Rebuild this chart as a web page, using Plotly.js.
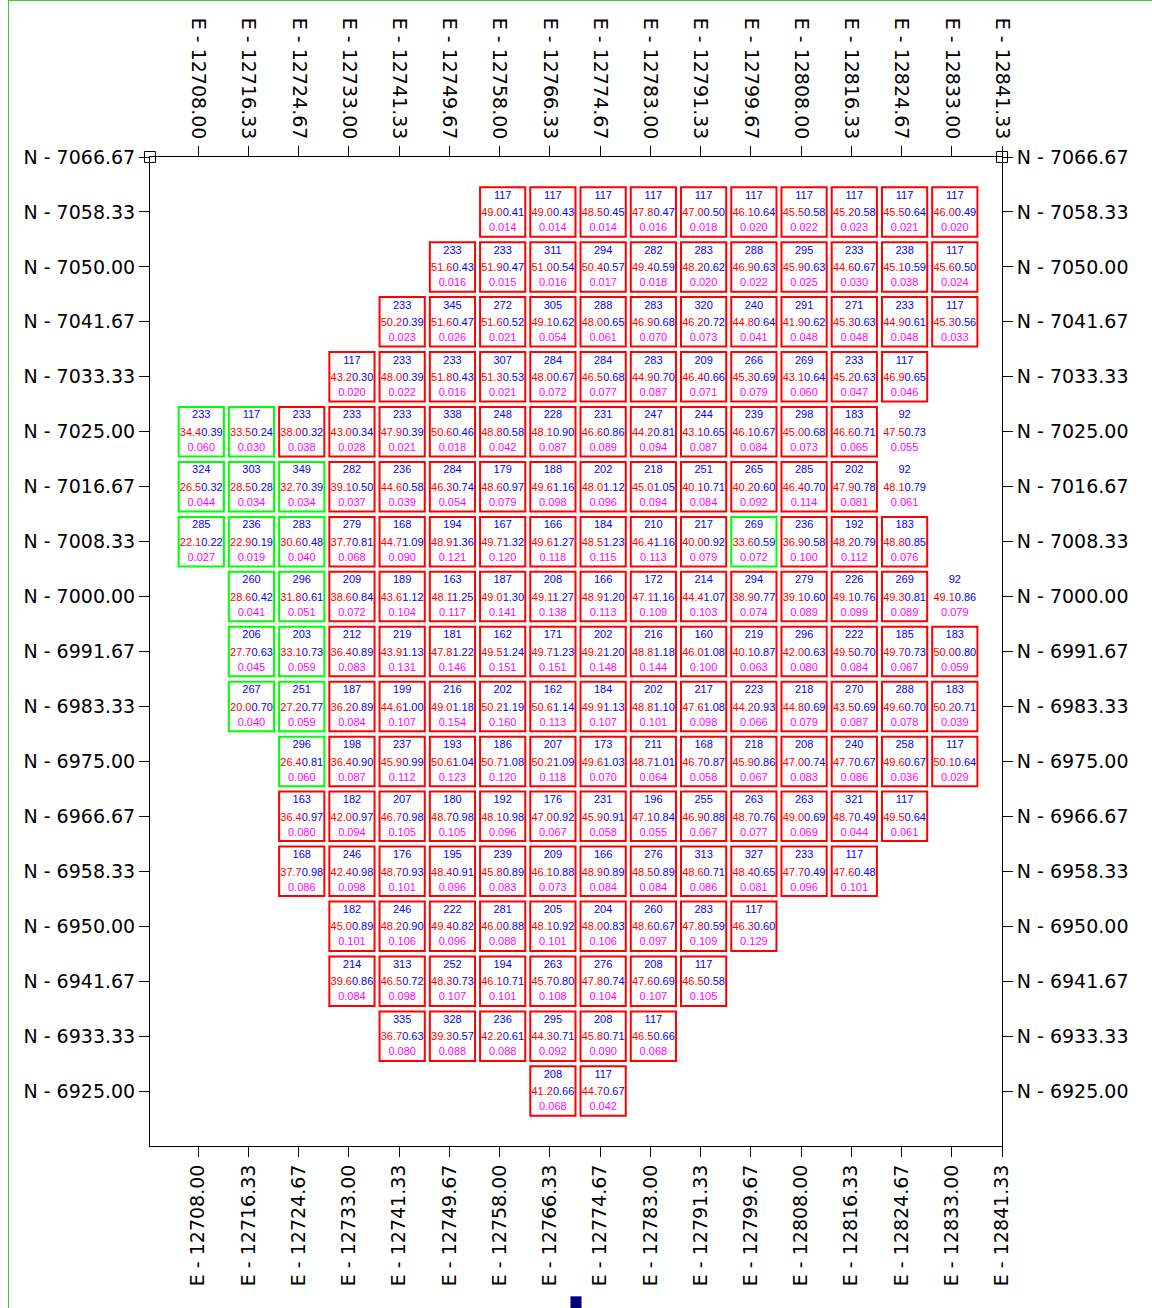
<!DOCTYPE html>
<html><head><meta charset="utf-8">
<script src="https://cdn.plot.ly/plotly-3.0.1.min.js"></script>
<style>
html,body{margin:0;padding:0;background:#fff;}
#wrap{position:relative;width:1152px;height:1308px;overflow:hidden;}
#frame{position:absolute;left:8px;top:0;width:1144px;height:1308px;border-left:1px solid #3ccf3c;border-top:1px solid #3ccf3c;box-sizing:border-box;pointer-events:none;}
</style>
</head><body>
<div id="wrap"><div id="chart"></div><div id="frame"></div></div>
<script>
// Column (easting) and row (northing) positions
const eastTicks = [12708.00, 12716.33, 12724.67, 12733.00, 12741.33, 12749.67, 12758.00, 12766.33,
  12774.67, 12783.00, 12791.33, 12799.67, 12808.00, 12816.33, 12824.67, 12833.00, 12841.33];
const northTicks = [7066.67, 7058.33, 7050.00, 7041.67, 7033.33, 7025.00, 7016.67, 7008.33, 7000.00,
  6991.67, 6983.33, 6975.00, 6966.67, 6958.33, 6950.00, 6941.67, 6933.33, 6925.00];

// block rows (top to bottom): northing, first column index
const rowNorth = [7058.33, 7050.00, 7041.67, 7033.33, 7025.00, 7016.67, 7008.33, 7000.00, 6991.67,
  6983.33, 6975.00, 6966.67, 6958.33, 6950.00, 6941.67, 6933.33, 6925.00];
const rowStartCol = [6, 5, 4, 3, 0, 0, 0, 1, 1, 1, 2, 2, 2, 3, 3, 4, 7];

// top value (blue)
const tonnage = [
  [117,117,117,117,117,117,117,117,117,117],
  [233,233,311,294,282,283,288,295,233,238,117],
  [233,345,272,305,288,283,320,240,291,271,233,117],
  [117,233,233,307,284,284,283,209,266,269,233,117],
  [233,117,233,233,233,338,248,228,231,247,244,239,298,183,92],
  [324,303,349,282,236,284,179,188,202,218,251,265,285,202,92],
  [285,236,283,279,168,194,167,166,184,210,217,269,236,192,183],
  [260,296,209,189,163,187,208,166,172,214,294,279,226,269,92],
  [206,203,212,219,181,162,171,202,216,160,219,296,222,185,183],
  [267,251,187,199,216,202,162,184,202,217,223,218,270,288,183],
  [296,198,237,193,186,207,173,211,168,218,208,240,258,117],
  [163,182,207,180,192,176,231,196,255,263,263,321,117],
  [168,246,176,195,239,209,166,276,313,327,233,117],
  [182,246,222,281,205,204,260,283,117],
  [214,313,252,194,263,276,208,117],
  [335,328,236,295,208,117],
  [208,117]
];
// middle value, left part (red)
const grade = [
  [49.0,49.0,48.5,47.8,47.0,46.1,45.5,45.2,45.5,46.0],
  [51.6,51.9,51.0,50.4,49.4,48.2,46.9,45.9,44.6,45.1,45.6],
  [50.2,51.6,51.6,49.1,48.0,46.9,46.2,44.8,41.9,45.3,44.9,45.3],
  [43.2,48.0,51.8,51.3,48.0,46.5,44.9,46.4,45.3,43.1,45.2,46.9],
  [34.4,33.5,38.0,43.0,47.9,50.6,48.8,48.1,46.6,44.2,43.1,46.1,45.0,46.6,47.5],
  [26.5,28.5,32.7,39.1,44.6,46.3,48.6,49.6,48.0,45.0,40.1,40.2,46.4,47.9,48.1],
  [22.1,22.9,30.6,37.7,44.7,48.9,49.7,49.6,48.5,46.4,40.0,33.6,36.9,48.2,48.8],
  [28.6,31.8,38.6,43.6,48.1,49.0,49.1,48.9,47.1,44.4,38.9,39.1,49.1,49.3,49.1],
  [27.7,33.1,36.4,43.9,47.8,49.5,49.7,49.2,48.8,46.0,40.1,42.0,49.5,49.7,50.0],
  [20.0,27.2,36.2,44.6,49.0,50.2,50.6,49.9,48.8,47.6,44.2,44.8,43.5,49.6,50.2],
  [26.4,36.4,45.9,50.6,50.7,50.2,49.6,48.7,46.7,45.9,47.0,47.7,49.6,50.1],
  [36.4,42.0,46.7,48.7,48.1,47.0,45.9,47.1,46.9,48.7,49.0,48.7,49.5],
  [37.7,42.4,48.7,48.4,45.8,46.1,48.9,48.5,48.6,48.4,47.7,47.6],
  [45.0,48.2,49.4,46.0,48.1,48.0,48.6,47.8,46.3],
  [39.6,46.5,48.3,46.1,45.7,47.8,47.6,46.5],
  [36.7,39.3,42.2,44.3,45.8,46.5],
  [41.2,44.7]
];
// middle value, right part (blue)
const thickness = [
  [0.41,0.43,0.45,0.47,0.50,0.64,0.58,0.58,0.64,0.49],
  [0.43,0.47,0.54,0.57,0.59,0.62,0.63,0.63,0.67,0.59,0.50],
  [0.39,0.47,0.52,0.62,0.65,0.68,0.72,0.64,0.62,0.63,0.61,0.56],
  [0.30,0.39,0.43,0.53,0.67,0.68,0.70,0.66,0.69,0.64,0.63,0.65],
  [0.39,0.24,0.32,0.34,0.39,0.46,0.58,0.90,0.86,0.81,0.65,0.67,0.68,0.71,0.73],
  [0.32,0.28,0.39,0.50,0.58,0.74,0.97,1.16,1.12,1.05,0.71,0.60,0.70,0.78,0.79],
  [0.22,0.19,0.48,0.81,1.09,1.36,1.32,1.27,1.23,1.16,0.92,0.59,0.58,0.79,0.85],
  [0.42,0.61,0.84,1.12,1.25,1.30,1.27,1.20,1.16,1.07,0.77,0.60,0.76,0.81,0.86],
  [0.63,0.73,0.89,1.13,1.22,1.24,1.23,1.20,1.18,1.08,0.87,0.63,0.70,0.73,0.80],
  [0.70,0.77,0.89,1.00,1.18,1.19,1.14,1.13,1.10,1.08,0.93,0.69,0.69,0.70,0.71],
  [0.81,0.90,0.99,1.04,1.08,1.09,1.03,1.01,0.87,0.86,0.74,0.67,0.67,0.64],
  [0.97,0.97,0.98,0.98,0.98,0.92,0.91,0.84,0.88,0.76,0.69,0.49,0.64],
  [0.98,0.98,0.93,0.91,0.89,0.88,0.89,0.89,0.71,0.65,0.49,0.48],
  [0.89,0.90,0.82,0.88,0.92,0.83,0.67,0.59,0.60],
  [0.86,0.72,0.73,0.71,0.80,0.74,0.69,0.58],
  [0.63,0.57,0.61,0.71,0.71,0.66],
  [0.66,0.67]
];
// bottom value (magenta)
const metal = [
  [0.014,0.014,0.014,0.016,0.018,0.020,0.022,0.023,0.021,0.020],
  [0.016,0.015,0.016,0.017,0.018,0.020,0.022,0.025,0.030,0.038,0.024],
  [0.023,0.026,0.021,0.054,0.061,0.070,0.073,0.041,0.048,0.048,0.048,0.033],
  [0.020,0.022,0.016,0.021,0.072,0.077,0.087,0.071,0.079,0.060,0.047,0.046],
  [0.060,0.030,0.038,0.028,0.021,0.018,0.042,0.087,0.089,0.094,0.087,0.084,0.073,0.065,0.055],
  [0.044,0.034,0.034,0.037,0.039,0.054,0.079,0.098,0.096,0.094,0.084,0.092,0.114,0.081,0.061],
  [0.027,0.019,0.040,0.068,0.090,0.121,0.120,0.118,0.115,0.113,0.079,0.072,0.100,0.112,0.076],
  [0.041,0.051,0.072,0.104,0.117,0.141,0.138,0.113,0.109,0.103,0.074,0.089,0.099,0.089,0.079],
  [0.045,0.059,0.083,0.131,0.146,0.151,0.151,0.148,0.144,0.100,0.063,0.080,0.084,0.067,0.059],
  [0.040,0.059,0.084,0.107,0.154,0.160,0.113,0.107,0.101,0.098,0.066,0.079,0.087,0.078,0.039],
  [0.060,0.087,0.112,0.123,0.120,0.118,0.070,0.064,0.058,0.067,0.083,0.086,0.036,0.029],
  [0.080,0.094,0.105,0.105,0.096,0.067,0.058,0.055,0.067,0.077,0.069,0.044,0.061],
  [0.086,0.098,0.101,0.096,0.083,0.073,0.084,0.084,0.086,0.081,0.096,0.101],
  [0.101,0.106,0.096,0.088,0.101,0.106,0.097,0.109,0.129],
  [0.084,0.098,0.107,0.101,0.108,0.104,0.107,0.105],
  [0.080,0.088,0.088,0.092,0.090,0.068],
  [0.068,0.042]
];
// block outline: R = red, G = green, N = none
const outline = [
  "RRRRRRRRRR",
  "RRRRRRRRRRR",
  "RRRRRRRRRRRR",
  "RRRRRRRRRRRR",
  "GGRRRRRRRRRRRRN",
  "GGGRRRRRRRRRRRN",
  "GGGRRRRRRRRGRRR",
  "GGRRRRRRRRRRRRN",
  "GGRRRRRRRRRRRRR",
  "GGRRRRRRRRRRRRR",
  "GRRRRRRRRRRRRR",
  "RRRRRRRRRRRRR",
  "RRRRRRRRRRRR",
  "RRRRRRRRR",
  "RRRRRRRR",
  "RRRRRR",
  "RR"
];

// ---- styling constants ----
const HALF = 3.75;              // block half size (axis units)
const DX = 0.5;                 // blocks sit slightly right of the tick
const PXY = 150 / 989;          // y units per pixel
const RED = '#ff0000', BLUE = '#0000ff', MAG = '#ff00ff', GREEN = '#00ff00';
const txtFont = {family: 'Liberation Sans, Arial, sans-serif', size: 11};

const shapes = [];
const topX = [], topY = [], topT = [];
const midX = [], midY = [], midT = [];
const botX = [], botY = [], botT = [];

rowNorth.forEach((n, r) => {
  tonnage[r].forEach((t, k) => {
    const e = eastTicks[rowStartCol[r] + k] + DX;
    const o = outline[r][k];
    if (o !== 'N') {
      shapes.push({type: 'rect', xref: 'x', yref: 'y', layer: 'above',
        x0: e - HALF, x1: e + HALF, y0: n - HALF, y1: n + HALF,
        line: {color: o === 'G' ? GREEN : RED, width: 2}, fillcolor: 'rgba(0,0,0,0)'});
    }
    topX.push(e); topY.push(n + 16 * PXY); topT.push(String(t));
    midX.push(e); midY.push(n - 1.5 * PXY);
    midT.push('<span style="color:' + RED + '">' + grade[r][k].toFixed(1) + '</span>' + thickness[r][k].toFixed(2));
    botX.push(e); botY.push(n - 16.5 * PXY); botT.push(metal[r][k].toFixed(3));
  });
});

// small navy marker below the plot
shapes.push({type: 'rect', xref: 'paper', yref: 'paper', x0: 0.4935, x1: 0.5065, y0: -0.1645, y1: -0.152,
  fillcolor: '#000080', line: {width: 0}});

const textTrace = (x, y, t, color) => ({
  type: 'scatter', mode: 'text', x: x, y: y, text: t, textposition: 'middle center',
  textfont: Object.assign({color: color}, txtFont), hoverinfo: 'skip', cliponaxis: false, showlegend: false
});

const xRange = [12700.00, 12841.33];
const yRange = [6916.67, 7066.67];
const tickFont = {family: 'DejaVu Sans, sans-serif', size: 19, color: '#000'};
const eText = eastTicks.map(v => 'E - ' + v.toFixed(2));
const nText = northTicks.map(v => 'N - ' + v.toFixed(2));

const axisCommon = {showgrid: false, zeroline: false, ticks: 'outside', ticklen: 10, tickwidth: 1,
  tickcolor: '#000', showline: true, linecolor: '#000', linewidth: 1, tickfont: tickFont, tickmode: 'array'};

const data = [
  textTrace(topX, topY, topT, BLUE),
  textTrace(midX, midY, midT, BLUE),
  textTrace(botX, botY, botT, MAG),
  {type: 'scatter', mode: 'markers', x: [xRange[0], xRange[1]], y: [northTicks[0], northTicks[0]],
   xaxis: 'x2', yaxis: 'y2', marker: {symbol: 'square-open', size: 11, color: '#000', line: {width: 1}},
   cliponaxis: false, hoverinfo: 'skip', showlegend: false}
];

const layout = {
  width: 1152, height: 1308,
  margin: {l: 150, r: 150, t: 157, b: 162, pad: 0},
  paper_bgcolor: '#fff', plot_bgcolor: '#fff',
  showlegend: false,
  xaxis: Object.assign({}, axisCommon, {range: xRange, tickvals: eastTicks, ticktext: eText, tickangle: -90, side: 'bottom'}),
  xaxis2: Object.assign({}, axisCommon, {range: xRange, tickvals: eastTicks, ticktext: eText, tickangle: 90, side: 'top', overlaying: 'x'}),
  yaxis: Object.assign({}, axisCommon, {range: yRange, tickvals: northTicks, ticktext: nText, side: 'left'}),
  yaxis2: Object.assign({}, axisCommon, {range: yRange, tickvals: northTicks, ticktext: nText, side: 'right', overlaying: 'y'}),
  shapes: shapes
};

Plotly.newPlot('chart', data, layout, {displayModeBar: false, staticPlot: true});
</script>
</body></html>
